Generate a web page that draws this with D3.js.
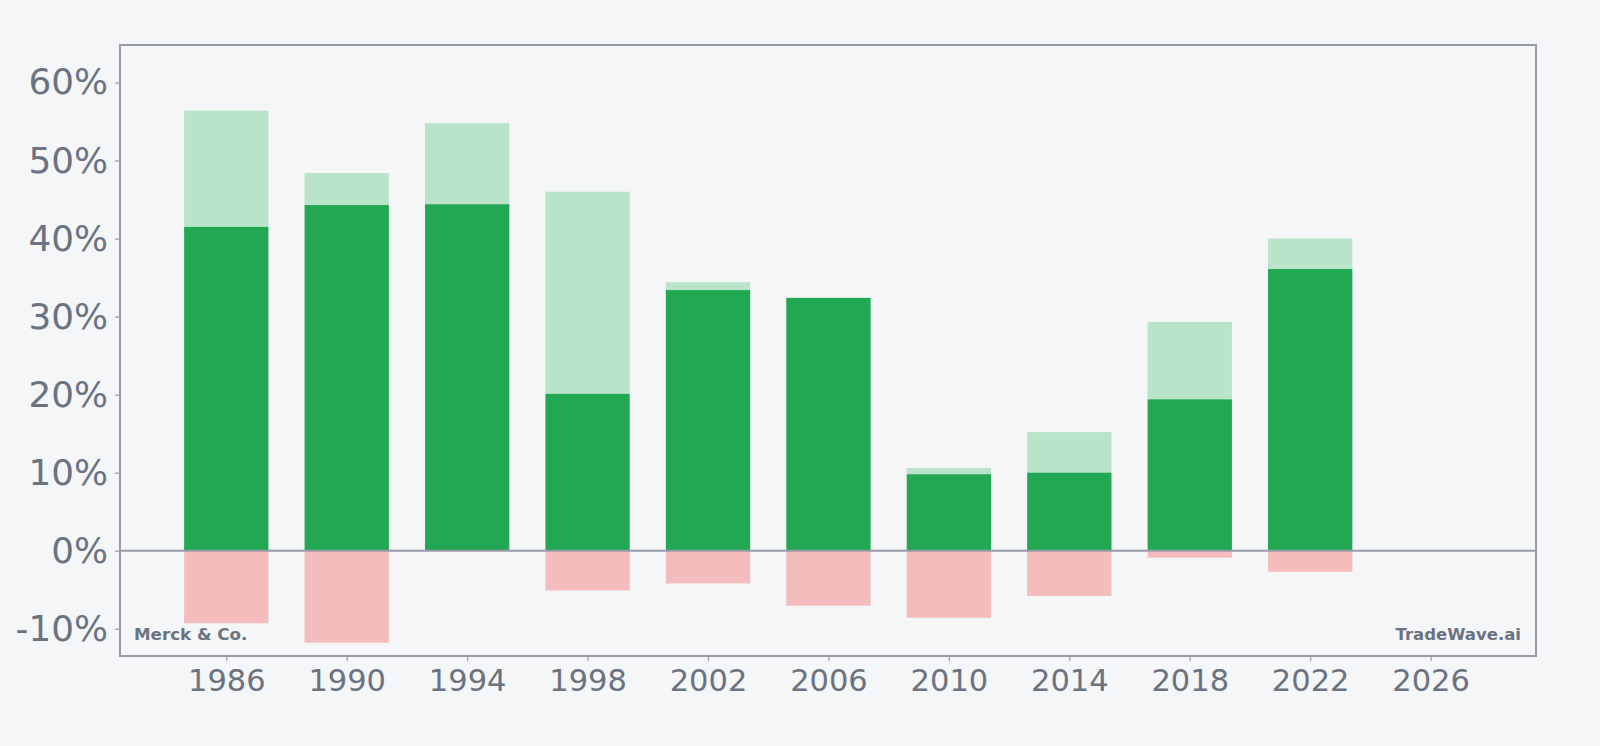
<!DOCTYPE html>
<html>
<head>
<meta charset="utf-8">
<script src="https://cdn.jsdelivr.net/npm/d3@7"></script>
<style>
  body { margin: 0; background: #f4f6f8; }
  svg { display: block; font-family: "DejaVu Sans", sans-serif; }
</style>
</head>
<body>
<svg id="chart"></svg>
<script>
/* chart data */

const years = [1986, 1990, 1994, 1998, 2002, 2006, 2010, 2014, 2018, 2022];
// dark green part (%)
const baseVals = [41.5, 44.3, 44.4, 20.1, 33.4, 32.4, 9.8, 10.0, 19.4, 36.1];
// top of light green part (%)
const topVals = [56.4, 48.4, 54.8, 46.0, 34.4, 32.4, 10.6, 15.2, 29.3, 40.0];
// red part below zero (%)
const negVals = [-9.3, -11.8, 0, -5.1, -4.2, -7.05, -8.6, -5.8, -0.9, -2.7];

const yTicks = [-10, 0, 10, 20, 30, 40, 50, 60];
const xTicks = [1986, 1990, 1994, 1998, 2002, 2006, 2010, 2014, 2018, 2022, 2026];

const W = 1600, H = 746;
const margin = { left: 120, right: 64, top: 45, bottom: 90 };
const axisColor = "#9a9ba8";
const textColor = "#6b7280";

let svg = d3.select("#chart").attr("width", W).attr("height", H);

svg.append("rect").attr("width", W).attr("height", H).attr("fill", "#f4f6f8");

let x = d3.scaleLinear()
  .domain([1982.47, 2029.5])
  .range([margin.left, W - margin.right]);

let y = d3.scaleLinear()
  .domain([-13.5, 64.81])
  .range([H - margin.bottom, margin.top]);

const barW = x(1986 + 2.8) - x(1986);

// bars
let bars = svg.append("g").attr("class", "bars");

bars.selectAll(".neg")
  .data(years)
  .enter().append("rect")
  .attr("class", "neg")
  .attr("x", (d) => x(d) - barW / 2)
  .attr("width", barW)
  .attr("y", y(0))
  .attr("height", (d, i) => y(negVals[i]) - y(0))
  .attr("fill", "#f4bcbc");

bars.selectAll(".light")
  .data(years)
  .enter().append("rect")
  .attr("class", "light")
  .attr("x", (d) => x(d) - barW / 2)
  .attr("width", barW)
  .attr("y", (d, i) => y(topVals[i]))
  .attr("height", (d, i) => y(baseVals[i]) - y(topVals[i]))
  .attr("fill", "#b9e4ca");

bars.selectAll(".dark")
  .data(years)
  .enter().append("rect")
  .attr("class", "dark")
  .attr("x", (d) => x(d) - barW / 2)
  .attr("width", barW)
  .attr("y", (d, i) => y(baseVals[i]))
  .attr("height", (d, i) => y(0) - y(baseVals[i]))
  .attr("fill", "#22a752");

// zero line
svg.append("line")
  .attr("x1", x.range()[0]).attr("x2", x.range()[1])
  .attr("y1", y(0)).attr("y2", y(0))
  .attr("stroke", axisColor)
  .attr("stroke-width", 2);

// frame
svg.append("rect")
  .attr("x", margin.left)
  .attr("y", margin.top)
  .attr("width", W - margin.left - margin.right)
  .attr("height", H - margin.top - margin.bottom)
  .attr("fill", "none")
  .attr("stroke", axisColor)
  .attr("stroke-width", 2);

// y axis
let yAxis = svg.append("g")
  .attr("transform", "translate(" + margin.left + ",0)")
  .call(d3.axisLeft(y).tickValues(yTicks).tickFormat(d => d + "%").tickSize(5).tickPadding(7));
yAxis.select(".domain").remove();
yAxis.selectAll(".tick line").attr("stroke", axisColor).attr("stroke-width", 1.2);
yAxis.selectAll(".tick text")
  .attr("fill", textColor)
  .attr("font-size", "35.8px")
  .attr("font-family", "DejaVu Sans");

// x axis
let xAxis = svg.append("g")
  .attr("transform", "translate(0," + (H - margin.bottom) + ")")
  .call(d3.axisBottom(x).tickValues(xTicks).tickFormat(d3.format("d")).tickSize(5).tickPadding(8));
xAxis.select(".domain").remove();
xAxis.selectAll(".tick line").attr("stroke", axisColor).attr("stroke-width", 1.2);
xAxis.selectAll(".tick text")
  .attr("fill", textColor)
  .attr("font-size", "30.5px")
  .attr("font-family", "DejaVu Sans");

// watermarks
svg.append("text")
  .text("Merck & Co.")
  .attr("x", margin.left + 14)
  .attr("y", H - margin.bottom - 16)
  .attr("fill", textColor)
  .attr("font-size", "16.7px")
  .attr("font-weight", "bold");

svg.append("text")
  .text("TradeWave.ai")
  .attr("x", W - margin.right - 15)
  .attr("y", H - margin.bottom - 16)
  .attr("text-anchor", "end")
  .attr("fill", textColor)
  .attr("font-size", "16.5px")
  .attr("font-weight", "bold");
</script>
</body>
</html>
